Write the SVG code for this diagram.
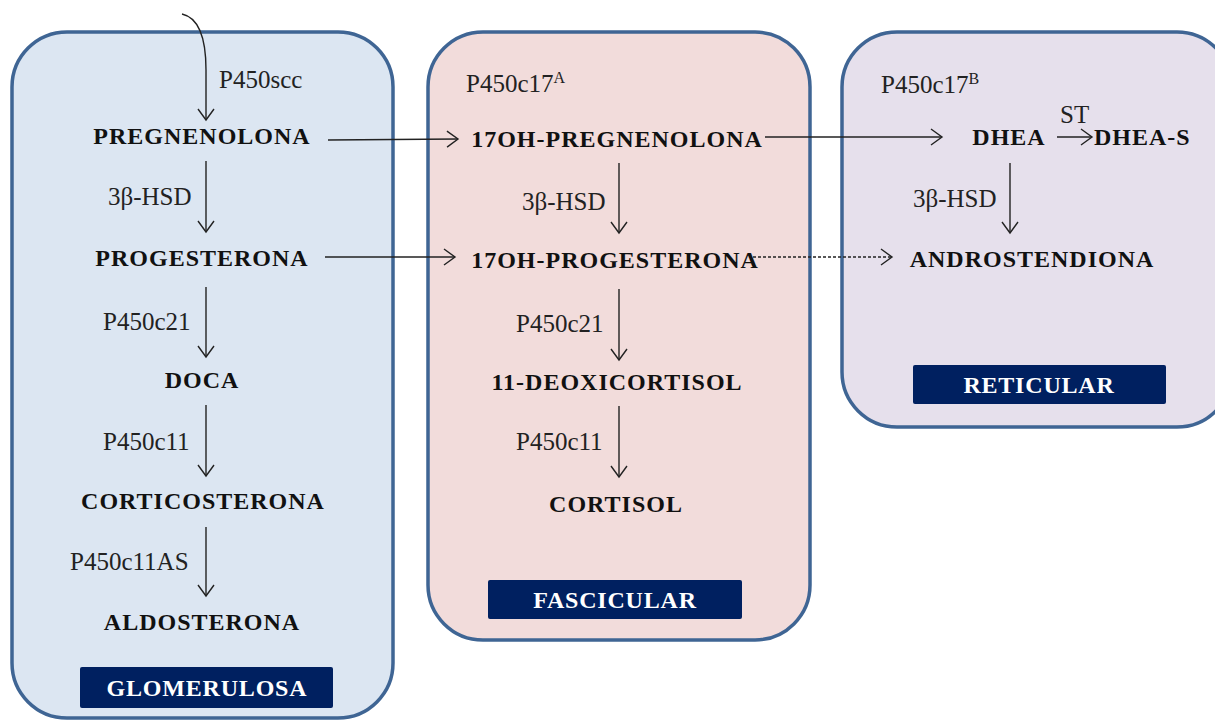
<svg xmlns="http://www.w3.org/2000/svg" width="1215" height="720" viewBox="0 0 1215 720">
<defs>
<marker id="arr" markerUnits="userSpaceOnUse" markerWidth="14" markerHeight="18" viewBox="0 0 14 18" refX="12" refY="9" orient="auto">
<path d="M1,1 L12,9 L1,17" fill="none" stroke="#222" stroke-width="1.4"/>
</marker>
</defs>
<style>
.zone{stroke:#3f6594;stroke-width:3.5}
.b{font-family:"Liberation Serif","Times New Roman",serif;font-weight:bold;font-size:24px;fill:#111;letter-spacing:1px}
.n{font-family:"Liberation Serif","Times New Roman",serif;font-size:25px;fill:#222}
.lbl{fill:#002060}
.lt{font-family:"Liberation Serif","Times New Roman",serif;font-weight:bold;font-size:24px;fill:#fff;letter-spacing:0.8px;text-anchor:middle}
.c{fill:none;stroke:#222;stroke-width:1.4}
.d{fill:none;stroke:#222;stroke-width:1.4;stroke-dasharray:3,2}
</style>
<rect width="1215" height="720" fill="#fff"/>

<g id="glomerulosa">
<rect class="zone" x="12" y="32" width="381" height="686" rx="55" fill="#dce6f2"/>
<rect class="lbl" x="80" y="667" width="253" height="41" rx="2"/>
<text class="lt" x="207" y="696">GLOMERULOSA</text>
</g>
<g id="fascicular">
<rect class="zone" x="428" y="32" width="382" height="608" rx="55" fill="#f2dcdb"/>
<rect class="lbl" x="488" y="580" width="254" height="39" rx="2"/>
<text class="lt" x="615" y="608">FASCICULAR</text>
</g>
<g id="reticular">
<rect class="zone" x="842" y="32" width="390" height="395" rx="55" fill="#e6e0ec"/>
<rect class="lbl" x="913" y="365" width="253" height="39" rx="2"/>
<text class="lt" x="1039" y="393">RETICULAR</text>
</g>

<g id="n-pregnenolona"><text class="b" x="202" y="144" text-anchor="middle">PREGNENOLONA</text></g>
<g id="n-progesterona"><text class="b" x="202" y="266" text-anchor="middle">PROGESTERONA</text></g>
<g id="n-doca"><text class="b" x="202" y="388" text-anchor="middle">DOCA</text></g>
<g id="n-corticosterona"><text class="b" x="203" y="509" text-anchor="middle">CORTICOSTERONA</text></g>
<g id="n-aldosterona"><text class="b" x="202" y="630" text-anchor="middle">ALDOSTERONA</text></g>

<g id="n-17oh-pregnenolona"><text class="b" x="617" y="147" text-anchor="middle">17OH-PREGNENOLONA</text></g>
<g id="n-17oh-progesterona"><text class="b" x="615" y="268" text-anchor="middle">17OH-PROGESTERONA</text></g>
<g id="n-11-deoxicortisol"><text class="b" x="617" y="390" text-anchor="middle">11-DEOXICORTISOL</text></g>
<g id="n-cortisol"><text class="b" x="616" y="512" text-anchor="middle">CORTISOL</text></g>

<g id="n-dhea"><text class="b" x="1009" y="145" text-anchor="middle">DHEA</text></g>
<g id="n-dhea-s"><text class="b" x="1094" y="145">DHEA-S</text></g>
<g id="n-androstendiona"><text class="b" x="1032" y="267" text-anchor="middle">ANDROSTENDIONA</text></g>

<g id="enzymes">
<text class="n" x="219" y="88">P450scc</text>
<text class="n" x="108" y="205">3β-HSD</text>
<text class="n" x="103" y="330">P450c21</text>
<text class="n" x="103" y="450">P450c11</text>
<text class="n" x="70" y="570">P450c11AS</text>
<text class="n" x="466" y="92">P450c17<tspan font-size="16" dy="-9">A</tspan></text>
<text class="n" x="522" y="210">3β-HSD</text>
<text class="n" x="516" y="332">P450c21</text>
<text class="n" x="516" y="450">P450c11</text>
<text class="n" x="881" y="93">P450c17<tspan font-size="16" dy="-9">B</tspan></text>
<text class="n" x="1060" y="123">ST</text>
<text class="n" x="913" y="207">3β-HSD</text>
</g>

<g id="connectors">
<path class="c" d="M182,14 C200,18 206,40 206,70 L206,120" marker-end="url(#arr)"/>
<path class="c" d="M206,161 L206,232" marker-end="url(#arr)"/>
<path class="c" d="M206,287 L206,357" marker-end="url(#arr)"/>
<path class="c" d="M206,405 L206,476" marker-end="url(#arr)"/>
<path class="c" d="M206,527 L206,596" marker-end="url(#arr)"/>
<path class="c" d="M328,140 L458,139" marker-end="url(#arr)"/>
<path class="c" d="M325,257 L455,257" marker-end="url(#arr)"/>
<path class="c" d="M619,163 L619,233" marker-end="url(#arr)"/>
<path class="c" d="M619,289 L619,360" marker-end="url(#arr)"/>
<path class="c" d="M619,406 L619,477" marker-end="url(#arr)"/>
<path class="c" d="M765,137 L942,137" marker-end="url(#arr)"/>
<path class="d" d="M753,257 L892,257" marker-end="url(#arr)"/>
<path class="c" d="M1057,137 L1092,137" marker-end="url(#arr)"/>
<path class="c" d="M1010,163 L1010,233" marker-end="url(#arr)"/>
</g>
</svg>
